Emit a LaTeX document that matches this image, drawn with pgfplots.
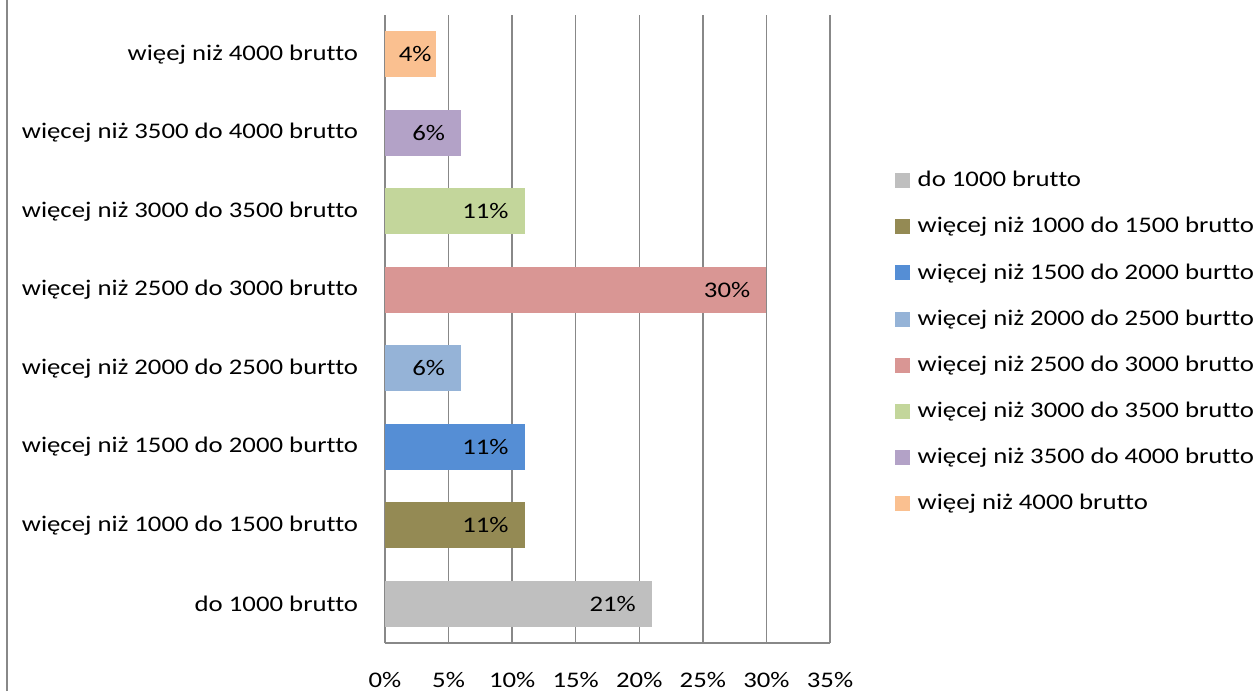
\documentclass[border=0pt]{standalone}
\usepackage{pgfplots}
\pgfplotsset{compat=1.18}
\usepackage{fontspec}
\setmainfont{Carlito}[FakeStretch=1.2, Ligatures=NoCommon]
\definecolor{c1}{HTML}{BFBFBF}
\definecolor{c2}{HTML}{948A54}
\definecolor{c3}{HTML}{558ED5}
\definecolor{c4}{HTML}{95B3D7}
\definecolor{c5}{HTML}{D99694}
\definecolor{c6}{HTML}{C3D69B}
\definecolor{c7}{HTML}{B3A2C7}
\definecolor{c8}{HTML}{FAC090}
\definecolor{gridgrey}{HTML}{888888}
\newcommand{\chartfont}{\fontsize{22.3}{26}\selectfont}
\begin{document}
\chartfont
\begin{tikzpicture}
\useasboundingbox (-385pt,-48pt) rectangle (868pt,643pt);
\draw[gridgrey, line width=1.5pt] (-378pt,-48pt) -- (-378pt,643pt);
\begin{axis}[
  at={(0pt,0pt)}, anchor=south west,
  scale only axis, width=445pt, height=628pt,
  xmin=0, xmax=35, ymin=-0.5, ymax=7.5,
  xtick={0,5,...,35},
  xticklabel={\pgfmathprintnumber{\tick}\%},
  /pgf/number format/assume math mode=true,
  ytick={0,...,7},
  yticklabels={do 1000 brutto, więcej niż 1000 do 1500 brutto, więcej niż 1500 do 2000 burtto, więcej niż 2000 do 2500 burtto, więcej niż 2500 do 3000 brutto, więcej niż 3000 do 3500 brutto, więcej niż 3500 do 4000 brutto, więej niż 4000 brutto},
  xmajorgrids, grid style={draw=gridgrey, line width=1.3pt},
  axis x line*=bottom, axis y line*=left,
  axis line style={draw=gridgrey, line width=1.3pt, -},
  major tick length=0pt,
  tick style={draw=none},
  every tick label/.append style={font=\chartfont, text=black},
  xticklabel style={yshift=-22pt},
  yticklabel style={xshift=-19.3pt},
  xbar, bar width=46pt, bar shift=0pt,
  point meta=x,
  nodes near coords={\pgfmathprintnumber{\pgfplotspointmeta}\%},
  nodes near coords style={anchor=east, xshift=-8.6pt, font=\chartfont, text=black},
  legend image code/.code={\fill[#1] (0pt,-7.5pt) rectangle (15pt,7.5pt);},
  legend style={draw=none, at={(1.145,0.479)}, anchor=west, font=\chartfont, row sep=23.3pt, inner sep=0pt,
    /tikz/every odd column/.append style={column sep=6pt}},
  legend cell align=left,
]
\addplot[fill=c1, draw=none] coordinates {(21,0)};
\addplot[fill=c2, draw=none] coordinates {(11,1)};
\addplot[fill=c3, draw=none] coordinates {(11,2)};
\addplot[fill=c4, draw=none] coordinates {(6,3)};
\addplot[fill=c5, draw=none] coordinates {(30,4)};
\addplot[fill=c6, draw=none] coordinates {(11,5)};
\addplot[fill=c7, draw=none] coordinates {(6,6)};
\addplot[fill=c8, draw=none, nodes near coords style={xshift=12pt}] coordinates {(4,7)};
\legend{do 1000 brutto, więcej niż 1000 do 1500 brutto, więcej niż 1500 do 2000 burtto, więcej niż 2000 do 2500 burtto, więcej niż 2500 do 3000 brutto, więcej niż 3000 do 3500 brutto, więcej niż 3500 do 4000 brutto, więej niż 4000 brutto}
\end{axis}
\end{tikzpicture}
\end{document}
